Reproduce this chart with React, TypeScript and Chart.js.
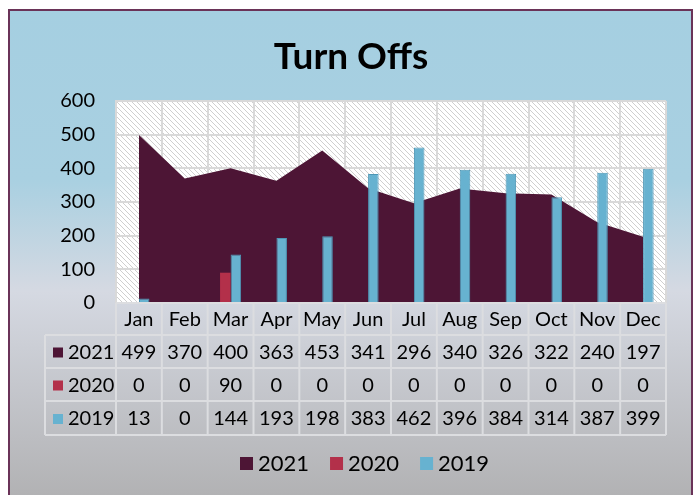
import React, { useEffect, useRef } from "react";
import { Chart, registerables } from "chart.js";

Chart.register(...registerables);

const months = ["Jan", "Feb", "Mar", "Apr", "May", "Jun", "Jul", "Aug", "Sep", "Oct", "Nov", "Dec"];
const series2021 = [499, 370, 400, 363, 453, 341, 296, 340, 326, 322, 240, 197];
const series2020 = [0, 0, 90, 0, 0, 0, 0, 0, 0, 0, 0, 0];
const series2019 = [13, 0, 144, 193, 198, 383, 462, 396, 384, 314, 387, 399];
const seriesLabels = ["2021", "2020", "2019"];
const seriesColors = ["#4D1535", "#B3304A", "#67B2D0"];
const titleText = "Turn Offs";
const yMin = 0;
const yMax = 600;
const yStep = 100;

const FONT = "Lato, 'Open Sans', sans-serif";

function makeHatch(): CanvasPattern | string {
  const c = document.createElement("canvas");
  c.width = 5;
  c.height = 5;
  const g = c.getContext("2d");
  if (!g) return "#ffffff";
  g.fillStyle = "#ffffff";
  g.fillRect(0, 0, 5, 5);
  g.fillStyle = "#cfcfcf";
  for (let i = 0; i < 5; i++) g.fillRect(i, i, 1, 1);
  const p = g.createPattern(c, "repeat");
  return p || "#ffffff";
}

const framePlugin = {
  id: "frame",
  beforeDraw(chart: any) {
    const { ctx, chartArea } = chart;
    const W = chart.width;
    const H = chart.height;
    ctx.save();
    ctx.fillStyle = "#ffffff";
    ctx.fillRect(0, 0, W, H);
    const grad = ctx.createLinearGradient(0, 10, 0, H);
    grad.addColorStop(0, "#A5CFE1");
    grad.addColorStop(0.35, "#A9D0E1");
    grad.addColorStop(0.58, "#D5D9E2");
    grad.addColorStop(1, "#B2B2B4");
    ctx.fillStyle = grad;
    ctx.fillRect(9, 10, 683, H - 10);
    ctx.strokeStyle = "#6A3358";
    ctx.lineWidth = 2;
    ctx.strokeRect(9, 10, 683, H);
    // hatched plot area
    ctx.fillStyle = makeHatch();
    ctx.fillRect(chartArea.left, chartArea.top, chartArea.right - chartArea.left, chartArea.bottom - chartArea.top);
    // title
    ctx.fillStyle = "#000000";
    ctx.font = `bold 37px ${FONT}`;
    ctx.textAlign = "center";
    ctx.textBaseline = "middle";
    ctx.fillText(titleText, 351, 57);
    ctx.restore();
  },
  afterDraw(chart: any) {
    const { ctx, chartArea } = chart;
    const x = chart.scales.x;
    const bottom = chartArea.bottom;
    const rowEdges = [bottom, bottom + 32, bottom + 65, bottom + 98, bottom + 132];
    const tableLeft = 45;
    ctx.save();
    ctx.strokeStyle = "#DCDDE0";
    ctx.lineWidth = 2;
    // horizontal lines
    ctx.beginPath();
    for (let r = 1; r < rowEdges.length; r++) {
      ctx.moveTo(tableLeft, rowEdges[r]);
      ctx.lineTo(chartArea.right, rowEdges[r]);
    }
    ctx.moveTo(chartArea.left, rowEdges[0]);
    ctx.lineTo(chartArea.right, rowEdges[0]);
    // vertical lines
    const n = months.length;
    const step = (chartArea.right - chartArea.left) / n;
    for (let i = 0; i <= n; i++) {
      const px = chartArea.left + i * step;
      ctx.moveTo(px, rowEdges[0]);
      ctx.lineTo(px, rowEdges[4]);
    }
    ctx.moveTo(tableLeft, rowEdges[1]);
    ctx.lineTo(tableLeft, rowEdges[4]);
    ctx.stroke();

    const all = [series2021, series2020, series2019];
    ctx.font = `20px ${FONT}`;
    ctx.textBaseline = "middle";
    for (let r = 0; r < 3; r++) {
      const cy = (rowEdges[r + 1] + rowEdges[r + 2]) / 2 + 1;
      ctx.fillStyle = seriesColors[r];
      ctx.fillRect(53, cy - 5, 10, 10);
      ctx.fillStyle = "#000000";
      ctx.textAlign = "left";
      ctx.fillText(seriesLabels[r], 68, cy);
      ctx.textAlign = "center";
      for (let i = 0; i < n; i++) {
        ctx.fillText(String(all[r][i]), x.getPixelForValue(i), cy);
      }
    }

    // legend
    const legendY = 464;
    ctx.font = `22px ${FONT}`;
    ctx.textAlign = "left";
    let lx = 240;
    for (let r = 0; r < 3; r++) {
      ctx.fillStyle = seriesColors[r];
      ctx.fillRect(lx, legendY - 7, 13, 13);
      ctx.fillStyle = "#000000";
      ctx.fillText(seriesLabels[r], lx + 18, legendY);
      lx += 18 + ctx.measureText(seriesLabels[r]).width + 21;
    }
    ctx.restore();
  },
};

export default function App() {
  const ref = useRef<HTMLCanvasElement | null>(null);
  useEffect(() => {
    if (!ref.current) return;
    const chart = new Chart(ref.current, {
      type: "bar",
      data: {
        labels: months,
        datasets: [
          {
            type: "line",
            label: seriesLabels[0],
            data: series2021,
            backgroundColor: seriesColors[0],
            borderColor: seriesColors[0],
            borderWidth: 0,
            pointRadius: 0,
            tension: 0,
            fill: "origin",
            order: 2,
          } as any,
          {
            type: "bar",
            label: seriesLabels[1],
            data: series2020,
            backgroundColor: seriesColors[1],
            borderWidth: 0,
            categoryPercentage: 0.46,
            barPercentage: 1,
            order: 1,
          },
          {
            type: "bar",
            label: seriesLabels[2],
            data: series2019,
            backgroundColor: seriesColors[2],
            borderColor: "#4E97B6",
            borderWidth: 1,
            categoryPercentage: 0.46,
            barPercentage: 1,
            order: 1,
          },
        ],
      },
      options: {
        responsive: false,
        animation: false,
        devicePixelRatio: 1,
        layout: { padding: { left: 0, top: 101, right: 32, bottom: 60 } },
        plugins: {
          legend: { display: false },
          title: { display: false },
          tooltip: { enabled: false },
        },
        scales: {
          x: {
            offset: true,
            grid: { offset: true, color: "#D9D9D9", lineWidth: 2, drawTicks: false },
            border: { display: true, color: "#D9D9D9", width: 2 },
            ticks: { color: "#000000", font: { family: FONT, size: 20 }, padding: 5, maxRotation: 0 },
            afterFit: (s: any) => {
              s.height = 132;
            },
          },
          y: {
            min: yMin,
            max: yMax,
            grid: { color: "#D9D9D9", lineWidth: 2, drawTicks: false },
            border: { display: true, color: "#D9D9D9", width: 2 },
            ticks: { stepSize: yStep, color: "#000000", font: { family: FONT, size: 20 }, padding: 21 },
            afterFit: (s: any) => {
              s.width = 116;
            },
          },
        },
      },
      plugins: [framePlugin],
    });
    return () => chart.destroy();
  }, []);
  return (
    <div style={{ position: "fixed", left: 0, top: 0, width: 698, height: 495 }}>
      <canvas ref={ref} width={698} height={495} style={{ display: "block" }} />
    </div>
  );
}
